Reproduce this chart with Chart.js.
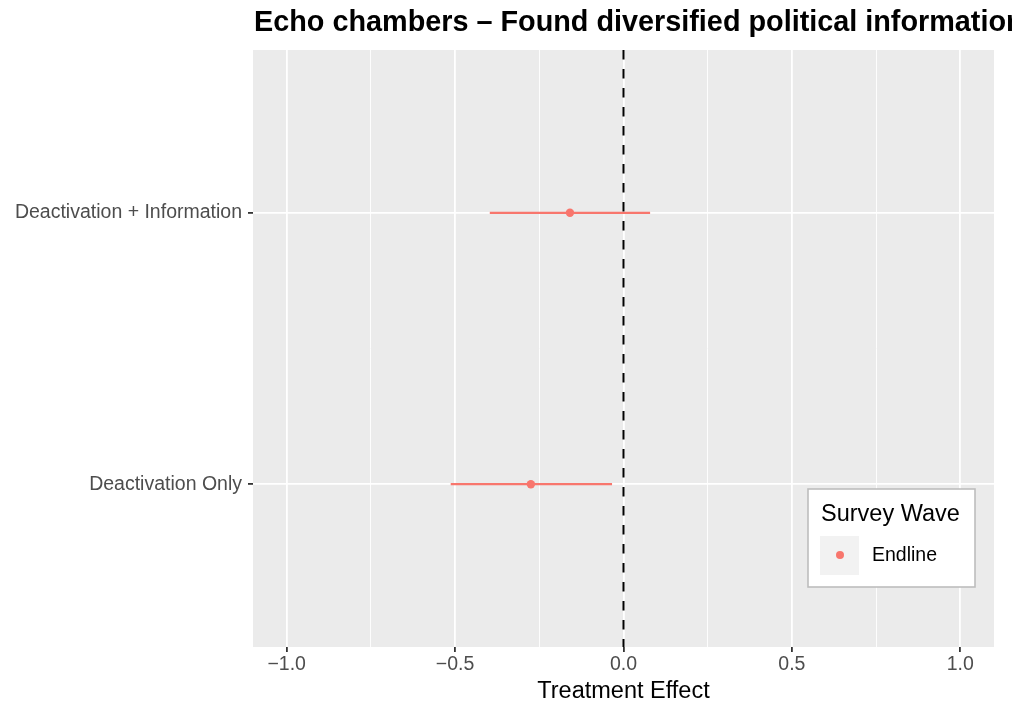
<!DOCTYPE html>
<html>
<head>
<meta charset="utf-8">
<script src="https://cdn.jsdelivr.net/npm/chart.js@4.4.1/dist/chart.umd.min.js"></script>
<style>
html,body{margin:0;padding:0;background:#fff;}
#wrap{width:1012px;height:705px;position:relative;}
</style>
</head>
<body>
<div id="wrap"><canvas id="c" width="1012" height="705"></canvas></div>
<script>
const titleText = "Echo chambers \u2013 Found diversified political information";
const categories = ["Deactivation Only", "Deactivation + Information"];
const categoryPos = [1, 2];
const estimates = [-0.275, -0.159];
const ciLow = [-0.513, -0.397];
const ciHigh = [-0.034, 0.079];
const xTickValues = [-1, -0.75, -0.5, -0.25, 0, 0.25, 0.5, 0.75, 1];
const xTickLabels = ["\u22121.0", "", "\u22120.5", "", "0.0", "", "0.5", "", "1.0"];
const seriesName = "Endline";
const legendTitle = "Survey Wave";
const xTitle = "Treatment Effect";

const red = "#F8766D";
const FONT = "'Liberation Sans', Arial, Helvetica, sans-serif";

// build CI segments (gaps between rows)
const ciData = [];
categories.forEach((c, i) => {
  ciData.push({x: ciLow[i], y: categoryPos[i]});
  ciData.push({x: ciHigh[i], y: categoryPos[i]});
  if (i < categories.length - 1) ciData.push({x: null, y: null});
});
const pointData = categories.map((c, i) => ({x: estimates[i], y: categoryPos[i]}));

const panelPlugin = {
  id: 'panel',
  beforeDraw(chart) {
    const {ctx, chartArea: a} = chart;
    ctx.save();
    ctx.fillStyle = '#EBEBEB';
    ctx.fillRect(a.left, a.top, a.right - a.left, a.bottom - a.top);
    ctx.restore();
  },
  afterDraw(chart) {
    const {ctx, chartArea: a} = chart;
    ctx.save();
    // title
    ctx.fillStyle = '#000';
    ctx.font = "bold 28.8px " + FONT;
    ctx.textBaseline = 'middle';
    ctx.textAlign = 'left';
    ctx.fillText(titleText, a.left + 1, 23);
    // legend
    const bx = a.right - 186, by = a.bottom - 158, bw = 167, bh = 98;
    ctx.fillStyle = '#fff';
    ctx.fillRect(bx, by, bw, bh);
    ctx.strokeStyle = '#BDBDBD';
    ctx.lineWidth = 1.6;
    ctx.strokeRect(bx, by, bw, bh);
    ctx.fillStyle = '#000';
    ctx.font = "23.5px " + FONT;
    ctx.fillText(legendTitle, bx + 13, by + 26);
    ctx.fillStyle = '#F2F2F2';
    ctx.fillRect(bx + 12, by + 47, 39, 39);
    ctx.fillStyle = red;
    ctx.beginPath();
    ctx.arc(bx + 32, by + 66, 4, 0, Math.PI * 2);
    ctx.fill();
    ctx.fillStyle = '#000';
    ctx.font = "19.5px " + FONT;
    ctx.fillText(seriesName, bx + 64, by + 67);
    ctx.restore();
  }
};

new Chart(document.getElementById('c'), {
  type: 'scatter',
  data: {
    datasets: [
      {
        label: 'zero',
        data: [{x: 0, y: 2.6}, {x: 0, y: 0.4}],
        showLine: true,
        borderColor: '#000',
        borderWidth: 2,
        borderDash: [9.5, 9.5],
        pointRadius: 0,
        fill: false
      },
      {
        label: 'ci',
        data: ciData,
        showLine: true,
        spanGaps: false,
        borderColor: red,
        borderWidth: 2.3,
        pointRadius: 0,
        fill: false
      },
      {
        label: seriesName,
        data: pointData,
        showLine: false,
        pointRadius: 4.2,
        pointBackgroundColor: red,
        pointBorderWidth: 0,
        borderColor: red
      }
    ]
  },
  options: {
    responsive: false,
    animation: false,
    devicePixelRatio: 1,
    layout: {padding: {top: 50, right: 18, left: 0, bottom: 0}},
    plugins: {
      legend: {display: false},
      title: {display: false},
      tooltip: {enabled: false}
    },
    scales: {
      x: {
        type: 'linear',
        min: -1.1,
        max: 1.1,
        afterBuildTicks(scale) { scale.ticks = xTickValues.map(v => ({value: v})); },
        afterFit(scale) { scale.height = 58; },
        ticks: {
          autoSkip: false,
          maxRotation: 0,
          padding: 1,
          color: '#4D4D4D',
          font: {family: FONT, size: 19.5},
          callback(v, i) { return xTickLabels[i]; }
        },
        grid: {
          color: '#FFFFFF',
          lineWidth: ctx => (ctx.index % 2 === 0 ? 1.8 : 0.9),
          tickColor: ctx => (ctx.index % 2 === 0 ? '#333333' : 'rgba(0,0,0,0)'),
          tickLength: 5,
          drawTicks: true
        },
        border: {display: false},
        title: {
          display: true,
          text: xTitle,
          color: '#000',
          font: {family: FONT, size: 23.5},
          padding: {top: 0, bottom: -1}
        }
      },
      y: {
        type: 'linear',
        min: 0.4,
        max: 2.6,
        afterBuildTicks(scale) { scale.ticks = categoryPos.map(v => ({value: v})); },
        afterFit(scale) { scale.width = 253; },
        ticks: {
          autoSkip: false,
          padding: 6,
          color: '#4D4D4D',
          font: {family: FONT, size: 19.5},
          callback(v, i) { return categories[i]; }
        },
        grid: {
          color: '#FFFFFF',
          lineWidth: 1.8,
          tickColor: '#333333',
          tickLength: 5
        },
        border: {display: false}
      }
    }
  },
  plugins: [panelPlugin]
});
</script>
</body>
</html>
